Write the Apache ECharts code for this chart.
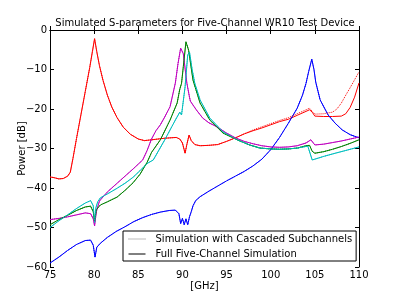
<!DOCTYPE html>
<html>
<head>
<meta charset="utf-8">
<script src="https://cdn.jsdelivr.net/npm/echarts@6/dist/echarts.min.js"></script>
<style>html,body{margin:0;padding:0;background:#fff}#c{width:399px;height:298px}</style>
</head>
<body>
<div id="c"></div>
<script>
// ---- data (frequency in GHz, power in dB) ----
const redF  = [75,75.5,76,76.5,77,77.3,77.6,78,78.5,79,79.5,79.8,80.05,80.3,80.6,81,81.5,82,82.6,83.3,84.1,85,85.7,86.5,88,89.3,89.7,90,90.3,90.5,90.75,91,91.4,92,93,94,95,96,97,98,99,100,101,102,103,104,104.4,104.7,105,106,107,108,108.5,109,109.5,110];
const redDb = [-37.2,-37.4,-37.7,-37.6,-37,-36,-32.5,-27.5,-21.5,-15.5,-9.5,-5.5,-2.2,-5.5,-9,-12.7,-16.5,-19.5,-22.2,-24.6,-26.4,-27.6,-28,-27.8,-27.4,-27.2,-27.6,-28.6,-31.2,-29,-26.6,-28,-29,-29.3,-29.2,-29,-28.2,-27.3,-26.3,-25.5,-24.8,-24,-23.2,-22.6,-21.6,-20.6,-20.2,-20.8,-21.8,-21.9,-21.9,-21.8,-21.2,-19.6,-17,-13.4];
const redDotF  = [75,75.5,76,76.5,77,77.3,77.6,78,78.5,79,79.5,79.8,80.05,80.3,80.6,81,81.5,82,82.6,83.3,84.1,85,85.7,86.5,88,89.3,89.7,90,90.3,90.5,90.75,91,91.4,92,93,94,95,96,97,98,99,100,101,102,103,104,104.4,104.7,105,106,107,107.5,108,108.5,109,109.5,110];
const redDotDb = [-37.2,-37.4,-37.7,-37.6,-37,-36,-32.5,-27.5,-21.5,-15.5,-9.5,-5.5,-2.2,-5.5,-9,-12.7,-16.5,-19.5,-22.2,-24.6,-26.4,-27.6,-28,-27.8,-27.4,-27.2,-27.6,-28.6,-31.2,-29,-26.6,-28,-29,-29.3,-29.2,-29,-28.2,-27.3,-26.3,-25.3,-24.5,-23.7,-22.9,-22.2,-21.2,-20.2,-19.8,-20.6,-21.3,-21.2,-20.8,-20,-18.5,-16.5,-14.6,-12.6,-10.6];

const blueF  = [75,76,77,78,79,79.6,79.9,80.1,80.3,80.7,81.5,82.5,83.5,84.5,85.5,86.5,87.5,88.5,89.2,89.6,89.8,90,90.2,90.4,90.6,90.8,91,91.2,91.5,92,93,94,95,96,97,98,99,100,101,102,103,103.6,104,104.3,104.65,104.9,105.1,105.6,106.5,107.3,108.1,109,110];
const blueDb = [-59,-57.5,-55.8,-54.3,-53.3,-53.2,-54.5,-57.5,-55,-54,-52.5,-51,-49.8,-48.5,-47.5,-46.7,-46.1,-45.7,-45.6,-46.5,-49,-47.7,-49.3,-47.8,-49.3,-47.3,-46,-44.5,-43.2,-42.2,-40.8,-39.5,-38.2,-37,-35.8,-34.4,-32.7,-30.3,-27.2,-23.6,-19.8,-16.5,-13.5,-10.5,-7.4,-10,-13.2,-17.7,-21.5,-23.6,-25.3,-26.5,-27.3];

const magF  = [75,76,77,78,79,79.6,79.9,80.05,80.25,80.6,81.5,82.5,83.5,84.5,85.5,86,86.5,87,87.5,88,88.6,89.2,89.5,89.8,90.1,90.5,90.8,90.9,91.2,91.6,92.3,93,93.9,95,96,97,98,99,100,101,102,103,104,104.55,105,106,107,108,109,110];
const magDb = [-48,-47.7,-47.3,-46.8,-46.3,-46.5,-47.8,-49.6,-46,-43.3,-41,-39,-37,-35,-32.9,-30.5,-27.6,-25.5,-24,-22,-19.4,-13.4,-8.5,-4.6,-6,-13.4,-17,-18,-19,-20.3,-22.3,-23.5,-24.5,-26.1,-27.3,-28.2,-28.8,-29.3,-29.6,-29.7,-29.6,-29.3,-28.6,-27.8,-29.1,-28.9,-28.5,-28.1,-27.6,-27.1];

const greenF  = [75,76,77,78,79,79.6,79.9,80.05,80.25,80.7,81.5,82.6,83.5,84.4,85.2,86,86.5,87.5,88.6,89.4,89.7,89.9,90.1,90.4,90.7,91.2,92,93.1,94.6,96.2,97.6,98.8,100,101,102,103,104,104.4,104.7,105,106,107,108,109,110];
const greenDb = [-49.3,-48,-46.9,-45.7,-44.8,-44.6,-46,-48.5,-45.5,-44.3,-43.5,-42.3,-40.6,-38.7,-36.5,-33.5,-31,-27.8,-22.8,-18.5,-15,-13.5,-9.3,-3,-5.1,-12.7,-18.5,-22.8,-26.1,-27.8,-29.1,-29.9,-30.1,-30.2,-30.1,-29.9,-29.3,-29.2,-30.7,-31.2,-30.8,-30.2,-29.5,-28.7,-27.8];

const cyanF  = [75,76,77,78,79,79.6,79.9,80.05,80.2,80.4,80.7,81.5,82.5,83.5,84.4,85.2,86,86.7,88,89.2,89.7,89.9,90.3,90.6,90.8,91.1,91.4,92,93.1,94.6,96.2,97.6,98.8,100,101,102,103,104.2,104.7,105,106,107.3,108.5,110];
const cyanDb = [-50,-48.3,-46.8,-45.2,-43.8,-43.2,-44.5,-48.8,-45,-43.5,-42.5,-41.5,-40.2,-38.8,-37.3,-35.6,-33.8,-32.9,-27.8,-22.8,-20.8,-21.5,-14.4,-6.3,-5.6,-10,-13.5,-17.7,-22.3,-25.8,-27.8,-29.1,-29.9,-30.1,-30.2,-30.1,-29.9,-29.4,-32.9,-32.7,-32,-31.2,-30.5,-29.6];

const xTicks = [75,80,85,90,95,100,105,110];
const yTicks = [-60,-50,-40,-30,-20,-10,0];
const titleText = 'Simulated S-parameters for Five-Channel WR10 Test Device';
const legendNames = ['Simulation with Cascaded Subchannels','Full Five-Channel Simulation'];

// ---- build ----
const zip = (a, b) => a.map((v, i) => [v, b[i]]);
const FONT = 'DejaVu Sans';
function line(name, f, d, color, type, z) {
  return {
    name: name, type: 'line', data: zip(f, d), symbol: 'none', showSymbol: false,
    lineStyle: {color: color, width: 1, type: type}, itemStyle: {color: color},
    animation: false, z: z, silent: true
  };
}
const C = {r:'#ff0000', b:'#0000ff', g:'#008000', c:'#00bfbf', m:'#bf00bf'};
const series = [
  line('red', redF, redDb, C.r, 'solid', 2),
  line('blue', blueF, blueDb, C.b, 'solid', 2),
  line('mag', magF, magDb, C.m, 'solid', 2),
  line('green', greenF, greenDb, C.g, 'solid', 2),
  line('cyan', cyanF, cyanDb, C.c, 'solid', 2),
  line('redd', redDotF, redDotDb, C.r, 'dotted', 3),
  line('blued', blueF, blueDb, C.b, 'dotted', 3),
  line('magd', magF, magDb, C.m, 'dotted', 3),
  line('greend', greenF, greenDb, C.g, 'dotted', 3),
  line('cyand', cyanF, cyanDb, C.c, 'dotted', 3),
  {name: legendNames[0], type: 'line', data: [], symbol: 'none', lineStyle: {color: '#777', width: 1, type: 'dotted'}, itemStyle: {color: '#000'}},
  {name: legendNames[1], type: 'line', data: [], symbol: 'none', lineStyle: {color: '#000', width: 1, type: 'solid'}, itemStyle: {color: '#000'}}
];
const minus = v => String(v).replace('-', '\u2212');
const axisCommon = {
  axisLine: {show: true, lineStyle: {color: '#000', width: 1}},
  axisTick: {show: true, inside: true, length: 4, lineStyle: {color: '#000'}},
  splitLine: {show: false}
};
const chart = echarts.init(document.getElementById('c'), null, {renderer: 'canvas'});
chart.setOption({
  backgroundColor: '#fff',
  animation: false,
  textStyle: {fontFamily: FONT},
  graphic: [{
    type: 'text', x: 205, y: 23, silent: true,
    style: {text: titleText, fill: '#000', font: '10px "DejaVu Sans"', textAlign: 'center', textVerticalAlign: 'middle'}
  }],
  grid: {left: 50, right: 40, top: 30, bottom: 31, show: false, containLabel: false, outerBoundsMode: 'none'},
  legend: {
    data: legendNames, orient: 'vertical', left: 123, top: 231,
    borderColor: '#000', borderWidth: 1, padding: [3, 4, 2, 5], itemGap: 5,
    itemWidth: 17, itemHeight: 11, backgroundColor: '#fff',
    itemStyle: {opacity: 0},
    lineStyle: {width: 1},
    textStyle: {fontFamily: FONT, fontSize: 10, color: '#000', padding: [0, 0, 0, 5]}
  },
  xAxis: [
    Object.assign({type: 'value', min: 75, max: 110, interval: 5, position: 'bottom',
      name: '[GHz]', nameLocation: 'middle', nameGap: 14, nameMoveOverlap: false,
      nameTextStyle: {fontFamily: FONT, fontSize: 10, color: '#000'},
      axisLabel: {fontFamily: FONT, fontSize: 10, color: '#000', margin: 3,
        formatter: v => xTicks.includes(v) ? String(v) : ''}}, axisCommon),
    Object.assign({type: 'value', min: 75, max: 110, interval: 5, position: 'top',
      axisLabel: {show: false}}, axisCommon)
  ],
  yAxis: [
    Object.assign({type: 'value', min: -60, max: 0, interval: 10, position: 'left',
      name: 'Power [dB]', nameLocation: 'middle', nameGap: 23, nameMoveOverlap: false,
      nameTextStyle: {fontFamily: FONT, fontSize: 10, color: '#000'},
      axisLabel: {fontFamily: FONT, fontSize: 10, color: '#000', margin: 3,
        formatter: v => yTicks.includes(v) ? minus(v) : ''}}, axisCommon),
    Object.assign({type: 'value', min: -60, max: 0, interval: 10, position: 'right',
      axisLabel: {show: false}}, axisCommon)
  ],
  series: series
});
</script>
</body>
</html>
